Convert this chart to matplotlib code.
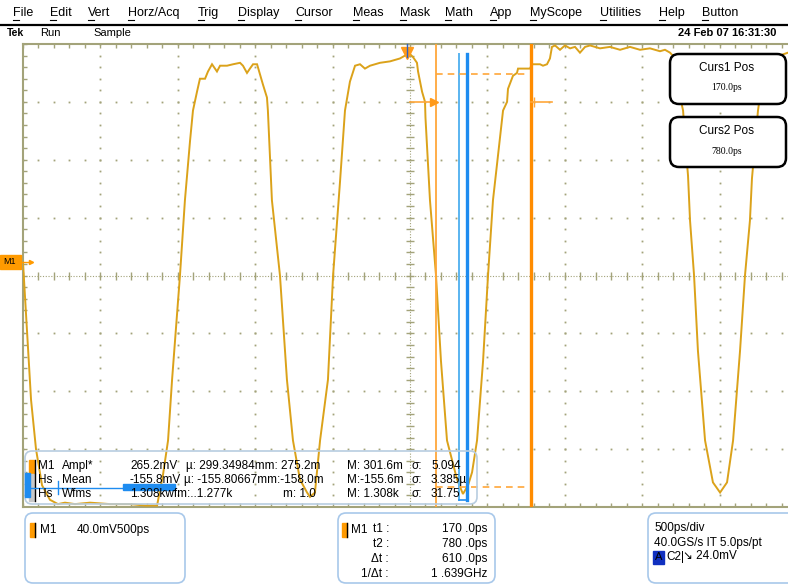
import numpy as np
import matplotlib
matplotlib.use('Agg')
import matplotlib.pyplot as plt
from matplotlib.patches import FancyBboxPatch, Rectangle

plt.rcParams['font.family'] = ['Liberation Sans', 'DejaVu Sans']

# scope settings
H_DIV = 500   # ps / div
V_DIV = 40    # mV / div

# M1 trace: time in ps (screen centre = 0), level in mV (screen centre = 0)
trace_t = [-2500, -2474, -2448, -2416, -2377, -2326, -2274, -2229, -2164, -2067, -1938, -1809,
           -1712, -1667, -1634, -1596, -1563, -1537, -1486, -1454, -1421, -1402, -1376, -1357,
           -1324, -1305, -1279, -1260, -1247, -1227, -1182, -1143, -1098, -1079, -1053, -1034,
           -1014, -988, -969, -950, -924, -918, -892, -840, -795, -756, -711, -665, -646, -614,
           -581, -530, -497, -452, -420, -388, -355, -323, -291, -258, -226, -194, -129, -97,
           -65, -32, 0, 19, 45, 52, 65, 78, 97, 100, 129, 168, 200, 239, 304, 342, 375, 401,
           433, 472, 504, 536, 601, 627, 633, 665, 691, 698, 775, 788, 840, 859, 885, 904,
           917, 937, 969, 1001, 1034, 1066, 1098, 1131, 1163, 1227, 1292, 1357, 1421, 1486,
           1550, 1615, 1647, 1680, 1705, 1718, 1744, 1764, 1783, 1796, 1809, 1835, 1860, 1906,
           1957, 2003, 2048, 2087, 2132, 2164, 2196, 2209, 2248, 2274, 2313, 2358, 2442]
trace_mv = [9, -38, -86, -120, -145, -155, -158, -157, -158, -157, -158, -158,
            -159, -159, -159, -138, -114, -72, 0, 52, 93, 114, 127, 136,
            136, 141, 146, 143, 141, 145, 145, 146, 147, 145, 140, 143,
            146, 146, 139, 132, 123, 114, 52, 0, -72, -114, -141, -150, -153, -150,
            -114, -72, 0, 65, 114, 134, 145, 146, 143, 145, 146, 147, 148, 149,
            150, 152, 153, 151, 147, 141, 134, 127, 120, 109, 52, 0, -59, -114, -141, -151, -145, -136,
            -114, -59, 0, 52, 114, 120, 129, 138, 140, 143, 143, 146, 146, 145, 146, 150,
            158, 159, 156, 159, 157, 158, 154, 158, 159, 157, 158, 156, 158, 156,
            157, 155, 156, 154, 151, 141, 124, 114, 86, 69, 38, 0, -52, -114,
            -143, -150, -143, -114, -52, 0, 38, 67, 114, 134, 147, 151, 154]

cursor_t = [170, 780]             # t1, t2 in ps
cursor_level_mv = [139, -146]     # dashed level lines between the cursors
cross_mv = 120                    # cursor/waveform crossing indicators
hist_window_t = [317, 368]
hist_window_mv = [-155, 153]
trig_t = -20

# readouts
menu_items = ['File', 'Edit', 'Vert', 'Horz/Acq', 'Trig', 'Display', 'Cursor', 'Meas',
              'Mask', 'Math', 'App', 'MyScope', 'Utilities', 'Help', 'Button']
menu_x = [13, 50, 88, 128, 198, 238, 295, 353, 400, 445, 490, 530, 600, 659, 702]
meas_rows = [
    ('M1', 'Ampl*', '265.2mV', 'µ: 299.34984mm: 275.2m', 'M: 301.6m', '5.094'),
    ('Hs', 'Mean', '-155.8mV', 'µ: -155.80667mm:-158.0m', 'M:-155.6m', '3.385µ'),
    ('Hs', 'Wfms', '1.308kwfm:..1.277k', 'm: 1.0', 'M: 1.308k', '31.75'),
]
curs_labels = ['t1 :', 't2 :', 'Δt :', '1/Δt :']
curs_values = ['170 .0ps', '780 .0ps', '610 .0ps', '1 .639GHz']

W, H = 788, 588
fig = plt.figure(figsize=(W / 100, H / 100), dpi=100)

# graticule area: x 23..797 px (right part falls off the screen), y 44..507 px
ax = fig.add_axes([23 / W, (H - 507) / H, 774 / W, 463 / H])
ax.set_xlim(-5 * H_DIV, 5 * H_DIV)
ax.set_ylim(-4 * V_DIV, 4 * V_DIV)
ax.set_xticks([])
ax.set_yticks([])
grid_c = '#a3a37a'
for s in ax.spines.values():
    s.set_color(grid_c)
    s.set_linewidth(1.5)

minor_t = np.arange(-5 * H_DIV, 5 * H_DIV + 1, H_DIV / 5)
minor_v = np.arange(-4 * V_DIV, 4 * V_DIV + 1, V_DIV / 5)
for gt in np.arange(-4 * H_DIV, 4 * H_DIV + 1, H_DIV):
    if gt == 0:
        continue
    ax.plot(np.full(minor_v.size, gt), minor_v, ls='none', marker='s', ms=1.3, mew=0, color=grid_c)
for gv in np.arange(-3 * V_DIV, 3 * V_DIV + 1, V_DIV):
    if gv == 0:
        continue
    ax.plot(minor_t, np.full(minor_t.size, gv), ls='none', marker='s', ms=1.3, mew=0, color=grid_c)
# centre lines with ticks
ax.axhline(0, color=grid_c, lw=0.8, ls=(0, (1, 1.5)))
ax.axvline(0, color=grid_c, lw=0.8, ls=(0, (1, 1.5)))
ax.plot(minor_t, np.zeros(minor_t.size), ls='none', marker='|', ms=6, mew=1, color=grid_c)
ax.plot(np.zeros(minor_v.size), minor_v, ls='none', marker='_', ms=6, mew=1, color=grid_c)
# edge ticks
ax.plot(minor_t, np.full(minor_t.size, 4 * V_DIV), ls='none', marker='|', ms=6, mew=1, color=grid_c)
ax.plot(minor_t, np.full(minor_t.size, -4 * V_DIV), ls='none', marker='|', ms=6, mew=1, color=grid_c)
ax.plot(np.full(minor_v.size, -5 * H_DIV), minor_v, ls='none', marker='_', ms=6, mew=1, color=grid_c)

# waveform
ax.plot(trace_t, trace_mv, color='#dba21a', lw=1.4, zorder=3, solid_joinstyle='miter')

# histogram window
ax.plot([hist_window_t[0]] * 2, hist_window_mv, color='#5ab4f0', lw=1.4, zorder=4)
ax.plot([hist_window_t[1]] * 2, hist_window_mv, color='#1e8cf0', lw=2.4, zorder=4)
ax.plot(hist_window_t, [hist_window_mv[0]] * 2, color='#1e8cf0', lw=1.2, zorder=4)

# cursors
ax.axvline(cursor_t[0], color='#ffa73a', lw=1.3, zorder=5)
ax.axvline(cursor_t[1], color='#ff8c00', lw=2.4, zorder=5)
for lv in cursor_level_mv:
    ax.plot([cursor_t[0], cursor_t[1] - 40], [lv, lv], color='#ffa73a', lw=1.2,
            ls=(0, (4, 3)), zorder=5)
ax.plot([0, cursor_t[0] - 15], [cross_mv, cross_mv], color='#ffa73a', lw=1.2, zorder=5)
ax.plot([cursor_t[0] - 15], [cross_mv], marker='>', ms=6, color='#ff9a1a', zorder=5)
ax.plot([cursor_t[1], cursor_t[1] + 140], [cross_mv, cross_mv], color='#ffa73a', lw=1.2, zorder=5)
ax.plot([cursor_t[1] + 20], [cross_mv], marker='|', ms=7, color='#ffa73a', zorder=5)

# trigger position marker
ax.plot([trig_t], [4 * V_DIV - 6], marker='v', ms=9, color='#ff9a1a', clip_on=False, zorder=6)
ax.plot([trig_t, trig_t], [4 * V_DIV, 4 * V_DIV - 9], color='#3060c0', lw=1, clip_on=False, zorder=7)

# ---- overlay in screen pixels ----
ov = fig.add_axes([0, 0, 1, 1], zorder=10)
ov.set_xlim(0, W)
ov.set_ylim(H, 0)
ov.axis('off')
ov.patch.set_alpha(0)

# menu bar
for name, x in zip(menu_items, menu_x):
    ov.text(x, 13, name, fontsize=9, va='center', ha='left')
    ov.plot([x, x + 6], [19.5, 19.5], color='black', lw=0.8)
ov.plot([0, W], [25, 25], color='black', lw=1.6)
ov.text(7, 33, 'Tek', fontsize=7.5, fontweight='bold', va='center')
ov.text(40, 33, 'Run', fontsize=8, va='center')
ov.text(93, 33, 'Sample', fontsize=8, va='center')
ov.text(678, 33, '24 Feb 07 16:31:30', fontsize=8, fontweight='bold', va='center')

# M1 reference marker
ov.add_patch(Rectangle((0, 255), 21, 14, color='#ff9a00'))
ov.text(10, 262, 'M1', fontsize=6.5, ha='center', va='center')
ov.plot([21, 31], [262, 262], color='#ff9a00', lw=1)
ov.plot([31], [262], marker='>', ms=3, color='#ff9a00')

# cursor position boxes
for y0, title, val in [(54, 'Curs1 Pos', '170.0ps'), (117, 'Curs2 Pos', '780.0ps')]:
    ov.add_patch(FancyBboxPatch((674, y0 + 4), 108, 42, boxstyle='round,pad=4,rounding_size=9',
                                fc='white', ec='black', lw=1.8))
    ov.text(727, y0 + 14, title, fontsize=8.5, ha='center', va='center')
    ov.text(727, y0 + 34, val, fontsize=7, ha='center', va='center', family='Liberation Serif')

# measurement box
ov.add_patch(FancyBboxPatch((29, 455), 444, 45, boxstyle='round,pad=4,rounding_size=7',
                            fc='none', ec='#b8cde0', lw=1.2))
row_y = [466, 480, 494]
row_c = ['#ff9a00', '#c8c8c8', '#c8c8c8']
for (src, name, v1, v2, v3, sig), y, c in zip(meas_rows, row_y, row_c):
    ov.add_patch(Rectangle((29, y - 6.5), 5, 13, color=c))
    ov.plot([35.5, 35.5], [y - 6.5, y + 6.5], color='black', lw=1)
    ov.text(38, y, src, fontsize=8.5, va='center')
    ov.text(62, y, name, fontsize=8.5, va='center')
    ov.text(130, y, v1, fontsize=8.5, va='center')
    ov.text(186 if src == 'M1' else 184, y, v2, fontsize=8.5, va='center') if not v2.startswith('m') else \
        ov.text(283, y, v2, fontsize=8.5, va='center')
    ov.text(347, y, v3, fontsize=8.5, va='center')
    ov.text(412, y, 'σ:', fontsize=8.5, va='center')
    ov.text(431, y, sig, fontsize=8.5, va='center')
# histogram strip
ov.add_patch(Rectangle((25, 473), 5, 24, color='#1e8cf0'))
ov.plot([28, 175], [487.5, 487.5], color='#1e8cf0', lw=1)
ov.plot([58, 58], [481, 494], color='#1e8cf0', lw=1)
ov.add_patch(Rectangle((123, 484), 52, 6, color='#1e8cf0'))

# bottom readout boxes
box_ec = '#a8c8ea'
for x0, x1 in [(29, 181), (342, 491), (652, 800)]:
    ov.add_patch(FancyBboxPatch((x0, 517), x1 - x0, 62, boxstyle='round,pad=4,rounding_size=8',
                                fc='white', ec=box_ec, lw=1.2))
ov.add_patch(Rectangle((30, 523), 5, 14, color='#ff9a00'))
ov.plot([35.5, 35.5], [523, 537], color='black', lw=1)
ov.text(40, 530, 'M1', fontsize=8.5, va='center')
ov.text(77, 530, '40.0mV500ps', fontsize=8.5, va='center')

ov.add_patch(Rectangle((342, 523), 5, 14, color='#ff9a00'))
ov.plot([347.5, 347.5], [523, 537], color='black', lw=1)
ov.text(351, 530, 'M1', fontsize=8.5, va='center')
for i, (lab, val) in enumerate(zip(curs_labels, curs_values)):
    y = 529 + i * 15
    ov.text(389, y, lab, fontsize=8.5, va='center', ha='right')
    ov.text(487, y, val, fontsize=8.5, va='center', ha='right')

ov.text(654, 528, '500ps/div', fontsize=8.5, va='center')
ov.text(654, 543, '40.0GS/s IT 5.0ps/pt', fontsize=8.5, va='center')
ov.add_patch(Rectangle((653, 551), 11, 13, color='#1030c0'))
ov.text(658.5, 557.5, 'A', fontsize=8, color='black', ha='center', va='center')
ov.text(666, 557, 'C2|', fontsize=8.5, va='center')
ov.text(683, 556, '↘ 24.0mV', fontsize=8.5, va='center')

fig.savefig('out.png', dpi=100)
